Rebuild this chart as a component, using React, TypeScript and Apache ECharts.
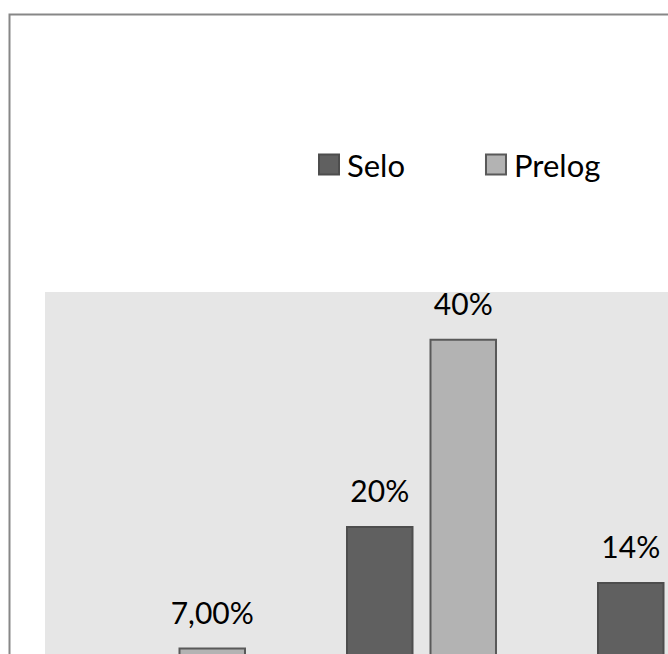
import React, { useEffect, useRef } from "react";
import * as echarts from "echarts";

const categories = ["1", "2", "3"];
const seloValues = [0, 20, 14];
const prelogValues: (number | null)[] = [7, 40, null];
const seloDecimals = [0, 0, 0];
const prelogDecimals = [2, 0, 0];
const yMax = 45;

const fmt = (v: number, d: number) => (v === 0 || v == null ? "" : v.toFixed(d).replace(".", ",") + "%");

export default function App() {
  const ref = useRef<HTMLDivElement>(null);
  useEffect(() => {
    if (!ref.current) return;
    const chart = echarts.init(ref.current, undefined, { renderer: "svg" });
    const font = "Lato, 'Noto Sans', sans-serif";
    const labelStyle = {
      show: true,
      position: "top" as const,
      distance: 21,
      color: "#000",
      fontSize: 30,
      fontFamily: font,
    };
    chart.setOption({
      animation: false,
      backgroundColor: "#fff",
      graphic: [
        {
          type: "rect",
          left: 7,
          top: 12,
          shape: { x: 0, y: 0, width: 985, height: 880 },
          style: { fill: "none", stroke: "#878787", lineWidth: 2 },
          silent: true,
          z: 10,
        },
      ],
      legend: {
        left: 313,
        top: 144,
        itemWidth: 20,
        itemHeight: 20,
        itemGap: 80,
        icon: "rect",
        textStyle: { fontSize: 31, fontFamily: font, color: "#000", lineHeight: 30, padding: [0, 0, 0, 3] },
        data: ["Selo", "Prelog"],
      },
      grid: {
        left: 45,
        top: 292,
        width: 753,
        height: 421,
        show: true,
        backgroundColor: "#e6e6e6",
        borderWidth: 0,
      },
      xAxis: {
        type: "category",
        data: categories,
        axisLine: { show: false },
        axisTick: { show: false },
        axisLabel: { show: false },
      },
      yAxis: {
        type: "value",
        min: 0,
        max: yMax,
        splitLine: { show: false },
        axisLine: { show: false },
        axisTick: { show: false },
        axisLabel: { show: false },
      },
      series: [
        {
          name: "Selo",
          type: "bar",
          data: seloValues,
          barWidth: 67.5,
          barGap: "23.7%",
          itemStyle: { color: "#606060", borderColor: "#4d4d4d", borderWidth: 2 },
          label: { ...labelStyle, formatter: (p: any) => fmt(p.value, seloDecimals[p.dataIndex]) },
        },
        {
          name: "Prelog",
          type: "bar",
          data: prelogValues,
          barWidth: 67.5,
          barGap: "23.7%",
          itemStyle: { color: "#b3b3b3", borderColor: "#595959", borderWidth: 2 },
          label: { ...labelStyle, formatter: (p: any) => fmt(p.value, prelogDecimals[p.dataIndex]) },
        },
      ],
    });
    return () => chart.dispose();
  }, []);
  return (
    <div style={{ position: "fixed", left: 0, top: 0, width: 668, height: 654, overflow: "hidden", background: "#fff" }}>
      <div ref={ref} style={{ width: 1000, height: 900 }} />
    </div>
  );
}
